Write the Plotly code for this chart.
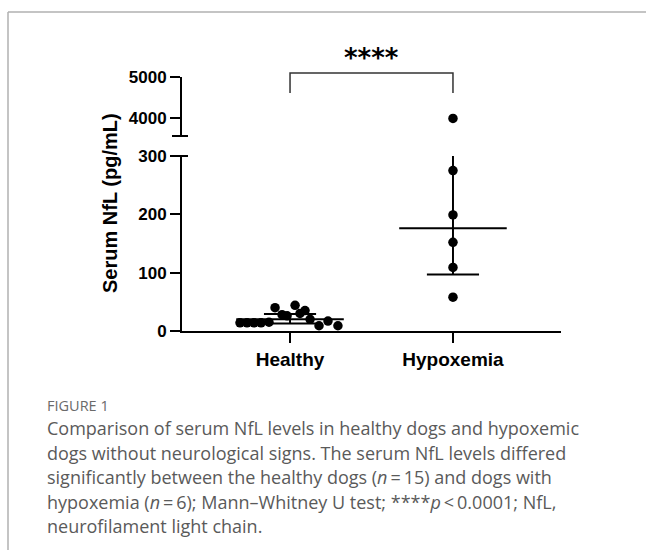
import plotly.graph_objects as go

# ---------------- data ----------------
groups = ["Healthy", "Hypoxemia"]
healthy_values = [14, 14, 14, 14, 15, 40, 28, 26, 44, 30, 35, 20, 9, 17, 9]
healthy_jitter = [-0.307, -0.264, -0.221, -0.178, -0.129, -0.092, -0.049, -0.018,
                  0.031, 0.061, 0.092, 0.123, 0.178, 0.233, 0.294]
hypoxemia_values = [4000, 275, 199, 152, 109, 58]
group_medians = [20, 176]
group_q1 = [13, 97]
group_q3 = [29, 330]
low_ticks = [0, 100, 200, 300]
high_ticks = [4000, 5000]
low_range = [0, 300]
high_range = [3575, 5000]
y_title = "Serum NfL (pg/mL)"
sig_label = "****"
fig_label = "FIGURE 1"
caption_lines = [
    "Comparison of serum NfL levels in healthy dogs and hypoxemic",
    "dogs without neurological signs. The serum NfL levels differed",
    "significantly between the healthy dogs (<i>n</i>\u2009=\u200915) and dogs with",
    "hypoxemia (<i>n</i>\u2009=\u20096); Mann\u2013Whitney U test; ****<i>p</i>\u2009&lt;\u20090.0001; NfL,",
    "neurofilament light chain.",
]

# ---------------- layout helpers (pixels -> paper) ----------------
W, H = 646, 550
L, R, T, B = 182, 561, 77, 331
X_RANGE = [-0.663, 1.663]


def px(x):
    return (x - L) / (R - L)


def py(y):
    return (B - y) / (B - T)


def xdata_to_paper(v):
    return (v - X_RANGE[0]) / (X_RANGE[1] - X_RANGE[0])


BOLD = "Liberation Sans, Arial, sans-serif"
fig = go.Figure()

# healthy points (lower axis)
fig.add_trace(go.Scatter(
    x=[0 + j for j in healthy_jitter], y=healthy_values, mode="markers",
    marker=dict(color="black", size=9.5), cliponaxis=False, yaxis="y", showlegend=False))

# hypoxemia points, split across the axis break
low_h = [v for v in hypoxemia_values if v <= low_range[1]]
high_h = [v for v in hypoxemia_values if v > low_range[1]]
fig.add_trace(go.Scatter(
    x=[1] * len(low_h), y=low_h, mode="markers",
    marker=dict(color="black", size=9.5), cliponaxis=False, yaxis="y", showlegend=False))
fig.add_trace(go.Scatter(
    x=[1] * len(high_h), y=high_h, mode="markers",
    marker=dict(color="black", size=9.5), cliponaxis=False, yaxis="y2", showlegend=False))

# median lines and interquartile bars
for i, g in enumerate(groups):
    line = dict(color="black", width=2)
    fig.add_trace(go.Scatter(x=[i - 0.33, i + 0.33], y=[group_medians[i]] * 2,
                             mode="lines", line=line, yaxis="y", showlegend=False))
    fig.add_trace(go.Scatter(x=[i, i], y=[group_q1[i], group_q3[i]],
                             mode="lines", line=line, yaxis="y", showlegend=False))
    for q in (group_q1[i], group_q3[i]):
        fig.add_trace(go.Scatter(x=[i - 0.16, i + 0.16], y=[q, q],
                                 mode="lines", line=line, yaxis="y", showlegend=False))

axis_common = dict(showline=True, linewidth=2, linecolor="black", ticks="outside",
                   ticklen=10, tickwidth=2, tickcolor="black", showgrid=False,
                   zeroline=False)

fig.update_layout(
    width=W, height=H,
    margin=dict(l=L, r=W - R, t=T, b=H - B),
    plot_bgcolor="white", paper_bgcolor="white",
    xaxis=dict(range=X_RANGE, tickvals=[0, 1], ticktext=[f"<b>{g}</b>" for g in groups],
               anchor="y", tickfont=dict(family=BOLD, size=19, color="black"), **axis_common),
    yaxis=dict(domain=[0, py(156)], range=low_range, tickvals=low_ticks,
               ticktext=[f"<b>{t}</b>" for t in low_ticks], anchor="x",
               tickfont=dict(family=BOLD, size=17, color="black"), **axis_common),
    yaxis2=dict(domain=[py(136), 1], range=high_range, tickvals=high_ticks,
                ticktext=[f"<b>{t}</b>" for t in high_ticks], anchor="x",
                tickfont=dict(family=BOLD, size=17, color="black"), **axis_common),
)

shapes = []
# break caps
shapes.append(dict(type="line", xref="paper", yref="paper", x0=px(L - 10), x1=px(L + 6),
                   y0=py(156), y1=py(156), line=dict(color="black", width=2)))
shapes.append(dict(type="line", xref="paper", yref="paper", x0=px(L - 10), x1=px(L + 6),
                   y0=py(136), y1=py(136), line=dict(color="black", width=2)))
# significance bracket between the two groups
xa, xb = xdata_to_paper(0), xdata_to_paper(1)
shapes.append(dict(type="path", xref="paper", yref="paper",
                   path=f"M {xa},{py(93)} L {xa},{py(73)} L {xb},{py(73)} L {xb},{py(93)}",
                   line=dict(color="#333333", width=1.5)))
# figure frame
shapes.append(dict(type="line", xref="paper", yref="paper", x0=px(8), x1=px(660),
                   y0=py(12), y1=py(12), line=dict(color="#b0b0b0", width=1.5)))
shapes.append(dict(type="line", xref="paper", yref="paper", x0=px(8), x1=px(8),
                   y0=py(12), y1=py(560), line=dict(color="#b0b0b0", width=1.5)))
fig.update_layout(shapes=shapes)

ann = []
ann.append(dict(x=xdata_to_paper(0.5), xref="paper", y=py(58), yref="paper",
                text=f"<b>{sig_label}</b>",
                showarrow=False, xanchor="center", yanchor="middle",
                font=dict(family="DejaVu Sans, sans-serif", size=26, color="black")))
ann.append(dict(x=px(110), y=py(203), xref="paper", yref="paper", text=f"<b>{y_title}</b>",
                textangle=-90, showarrow=False, xanchor="center", yanchor="middle",
                font=dict(family=BOLD, size=20, color="black")))
ann.append(dict(x=px(45), y=py(405), xref="paper", yref="paper", text=fig_label,
                showarrow=False, xanchor="left", yanchor="middle",
                font=dict(family="Open Sans, sans-serif", size=14.5, color="#6a6a6a")))
for k, line in enumerate(caption_lines):
    ann.append(dict(x=px(45), y=py(428 + 24.6 * k), xref="paper", yref="paper", text=line,
                    showarrow=False, xanchor="left", yanchor="middle",
                    font=dict(family="Open Sans, sans-serif", size=18, color="#5a5a5a")))
fig.update_layout(annotations=ann)

fig.write_html("out.html", config={"displayModeBar": False},
               post_script="document.body.style.margin='0px';")
